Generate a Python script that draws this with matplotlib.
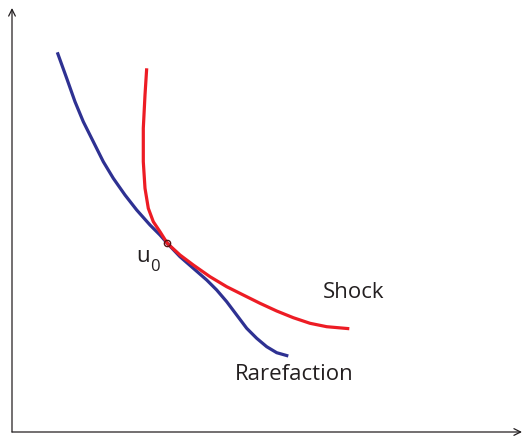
import matplotlib.pyplot as plt

# pixel position -> (x, y) with origin at axes corner
ox, oy = 12, 432

rare_px = [57.3, 66.7, 75, 83.3, 93.3, 103.3, 113.3, 125, 136.7, 150, 160, 167.3,
           180, 193.3, 206.7, 216.7, 226.7, 236.7, 246.7, 256.7, 266.7, 276.7, 288.3]
rare_py = [52.3, 78.3, 101.7, 121.7, 141.7, 161.7, 178.3, 195, 210, 225, 235, 243.3,
           256.7, 268.3, 280, 290, 301.7, 315, 328.3, 338.3, 346.7, 352.7, 356]

shock_px = [146.7, 145, 143.3, 143.3, 145, 148.3, 153.3, 160, 167.3,
            180, 193.3, 210, 226.7, 243.3, 260, 276.7, 293.3, 310, 326.7, 349.3]
shock_py = [68.3, 95, 128.3, 161.7, 188.3, 208.3, 221.7, 231.7, 243.3,
            255, 265, 276.7, 286.7, 295, 303.3, 311, 317.7, 323.3, 326.7, 328.7]

u0 = (167.3, 243.3)

rare_x = [p - ox for p in rare_px]
rare_y = [oy - p for p in rare_py]
shock_x = [p - ox for p in shock_px]
shock_y = [oy - p for p in shock_py]

plt.rcParams['font.family'] = ['Open Sans', 'DejaVu Sans']

fig = plt.figure(figsize=(5.27, 4.43), dpi=100)
ax = fig.add_axes([0, 0, 1, 1])
ax.set_xlim(-ox, 527 - ox)
ax.set_ylim(oy - 443, oy)
ax.axis('off')

# axes with open arrow heads
arr = dict(arrowstyle='->', color='#231f20', lw=0.9, mutation_scale=12, shrinkA=0, shrinkB=0)
ax.annotate('', xy=(0, oy - 8), xytext=(0, 0), arrowprops=arr)
ax.annotate('', xy=(522 - ox, 0), xytext=(0, 0), arrowprops=arr)

ax.plot(rare_x, rare_y, color='#2e3192', lw=2.3, solid_capstyle='butt', solid_joinstyle='round')
ax.plot(shock_x, shock_y, color='#ed1c24', lw=2.3, solid_capstyle='butt', solid_joinstyle='round')
ax.plot(u0[0] - ox, oy - u0[1], 'o', ms=4.5, mfc='none', mec='#5a1010', mew=1)

ax.text(136 - ox, oy - 256, 'u', fontsize=16, color='#231f20', va='center', ha='left')
ax.text(150 - ox, oy - 267, '0', fontsize=12, color='#231f20', va='center', ha='left')
ax.text(323 - ox, oy - 293, 'Shock', fontsize=16, color='#231f20', va='center', ha='left')
ax.text(235 - ox, oy - 374, 'Rarefaction', fontsize=16, color='#231f20', va='center', ha='left')

fig.savefig('out.png', dpi=100)
